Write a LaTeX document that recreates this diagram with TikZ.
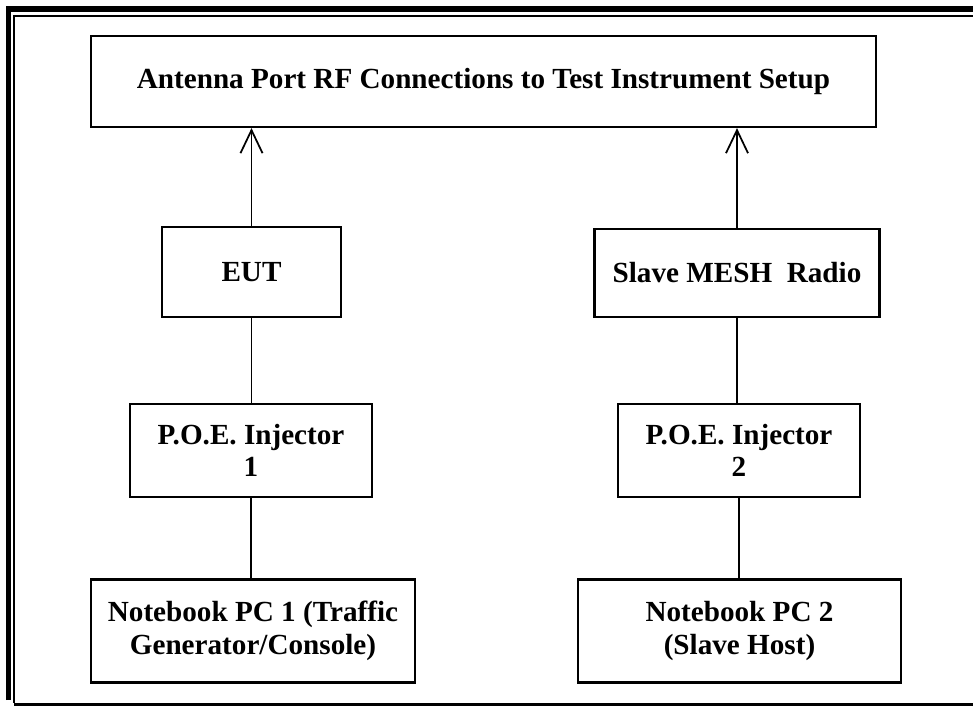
\documentclass[tikz,border=0pt]{standalone}
\usepackage{fontspec}
\setmainfont{Liberation Serif}
\usetikzlibrary{arrows.meta}

\begin{document}
\begin{tikzpicture}[x=0.02cm,y=-0.02cm,
    blk/.style={draw,line width=0.045cm,align=center,inner sep=0pt,
      font=\fontsize{16.6}{18.6}\selectfont\bfseries},
    wire/.style={line width=0.035cm},
    up/.style={wire,-{Straight Barb[length=0.46cm,width=0.44cm]}}]
    \useasboundingbox (0,0) rectangle (973,706);
    % frame
    \draw[line width=0.12cm] (8.5,700) -- (8.5,9.5) -- (973,9.5);
    \draw[line width=0.045cm] (14,703) -- (14,16) -- (973,16);
    \draw[line width=0.06cm] (14,704.5) -- (973,704.5);
    % boxes
    \node[blk,minimum width=15.7cm,minimum height=1.82cm] (setup) at (483.5,81.5) {Antenna Port RF Connections to Test Instrument Setup};
    \node[blk,minimum width=3.58cm,minimum height=1.8cm] (eut) at (251.5,272) {EUT};
    \node[blk,minimum width=5.7cm,minimum height=1.76cm] (slave) at (737,273) {Slave MESH\ \ Radio};
    \node[blk,minimum width=4.84cm,minimum height=1.86cm] (poea) at (251,450.5) {P.O.E. Injector\\1};
    \node[blk,minimum width=4.84cm,minimum height=1.86cm] (poeb) at (739,450.5) {P.O.E. Injector\\2};
    \node[blk,minimum width=6.48cm,minimum height=2.06cm] (pca) at (253,631) {Notebook PC 1 (Traffic\\Generator/Console)};
    \node[blk,minimum width=6.46cm,minimum height=2.06cm] (pcb) at (739.5,631) {Notebook PC 2\\(Slave Host)};
    % links
    \draw[up] (eut.north) -- (eut.north |- setup.south);
    \draw[up] (slave.north) -- (slave.north |- setup.south);
    \draw[wire] (eut) -- (eut |- poea.north);
    \draw[wire] (slave) -- (slave |- poeb.north);
    \draw[wire] (poea.south) -- (poea.south |- pca.north);
    \draw[wire] (poeb.south) -- (poeb.south |- pcb.north);
  \end{tikzpicture}
\end{document}
